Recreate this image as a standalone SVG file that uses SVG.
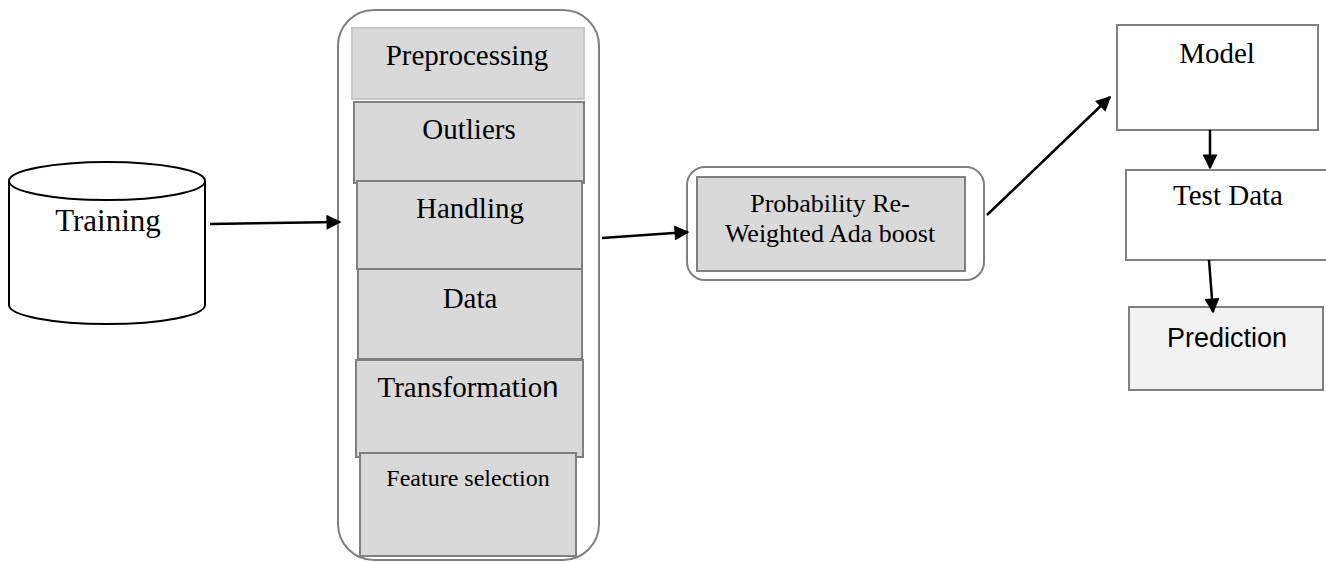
<svg xmlns="http://www.w3.org/2000/svg" width="1326" height="562" viewBox="0 0 1326 562">
<defs>
<style>
.t{font-family:"Liberation Serif","Times New Roman",serif;fill:#000;text-anchor:middle}
.s{font-family:"Liberation Sans",Arial,sans-serif;fill:#000;text-anchor:middle}
.g{fill:#d9d9d9;stroke:#808080;stroke-width:2}
.w{fill:#fff;stroke:#808080;stroke-width:2}
.c{stroke:#000;stroke-width:2.5;fill:none;marker-end:url(#ah)}
</style>
<marker id="ah" viewBox="0 0 10 10" refX="9" refY="5" markerWidth="7" markerHeight="6" markerUnits="strokeWidth" orient="auto">
<path d="M0,0 L10,5 L0,10 z" fill="#000"/>
</marker>
</defs>
<rect width="1326" height="562" fill="#fff"/>
<g id="training">
<path d="M9,181 L9,305 A98,19 0 0 0 205,305 L205,181" fill="#fff" stroke="#000" stroke-width="2"/>
<ellipse cx="107" cy="181" rx="98" ry="19" fill="#fff" stroke="#000" stroke-width="2"/>
<text class="t" x="108" y="231" font-size="31">Training</text>
</g>
<g id="preprocessing-group">
<rect x="338" y="10" width="261" height="550" rx="36" ry="36" fill="#fff" stroke="#808080" stroke-width="2"/>
<rect x="352" y="28" width="232" height="71" fill="#d9d9d9" stroke="#c8c8c8" stroke-width="2"/>
<text class="t" x="467" y="65" font-size="29">Preprocessing</text>
</g>
<g id="outliers">
<rect class="g" x="354" y="102" width="230" height="81"/>
<text class="t" x="469" y="139" font-size="29">Outliers</text>
</g>
<g id="handling">
<rect class="g" x="357" y="181" width="225" height="88"/>
<text class="t" x="470" y="218" font-size="29">Handling</text>
</g>
<g id="data">
<rect class="g" x="358" y="269" width="224" height="90"/>
<text class="t" x="470" y="308" font-size="29">Data</text>
</g>
<g id="transformation">
<rect class="g" x="356" y="360" width="227" height="97"/>
<text class="t" x="468" y="397" font-size="29">Transformatio<tspan style="font-family:'Liberation Sans',Arial,sans-serif">n</tspan></text>
</g>
<g id="feature-selection">
<rect class="g" x="360" y="453" width="216" height="103"/>
<text class="t" x="468" y="486" font-size="24">Feature selection</text>
</g>
<g id="adaboost">
<rect x="687" y="167" width="297" height="113" rx="18" ry="18" fill="#fff" stroke="#808080" stroke-width="2"/>
<rect class="g" x="697" y="177" width="268" height="94" stroke-width="3"/>
<text class="t" x="830" y="212" font-size="26">Probability Re-</text>
<text class="t" x="830" y="242" font-size="26">Weighted Ada boost</text>
</g>
<g id="model">
<rect class="w" x="1117" y="25" width="201" height="105"/>
<text class="t" x="1217" y="63" font-size="29">Model</text>
</g>
<g id="test-data">
<rect class="w" x="1126" y="170" width="201" height="90"/>
<text class="t" x="1228" y="205" font-size="29">Test Data</text>
</g>
<g id="prediction">
<rect x="1129" y="307" width="194" height="83" fill="#f2f2f2" stroke="#808080" stroke-width="2"/>
<text class="s" x="1227" y="347" font-size="27">Prediction</text>
</g>
<g id="connectors">
<line class="c" x1="210" y1="224" x2="340" y2="222"/>
<line class="c" x1="602" y1="238" x2="688" y2="232"/>
<line class="c" x1="987" y1="215" x2="1110" y2="97"/>
<line class="c" x1="1210" y1="130" x2="1210" y2="168"/>
<line class="c" x1="1209" y1="260" x2="1213" y2="312"/>
</g>
</svg>
